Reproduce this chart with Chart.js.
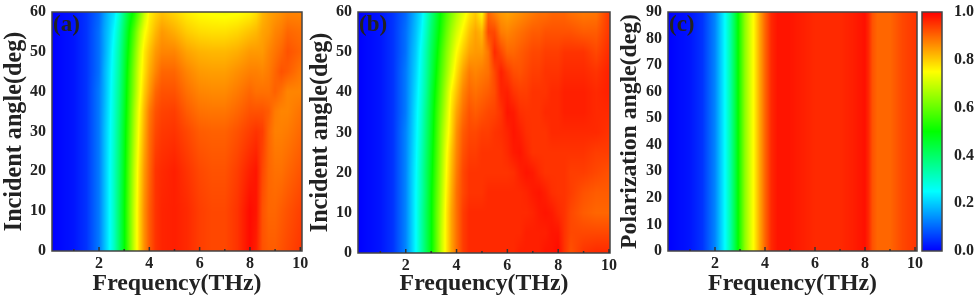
<!DOCTYPE html>
<html>
<head>
<meta charset="utf-8">
<style>
  html, body { margin: 0; padding: 0; background: #fff; }
  #wrap { position: relative; width: 979px; height: 300px; overflow: hidden; }
  canvas { position: absolute; top: 0; }
</style>
<script src="https://cdn.jsdelivr.net/npm/chart.js@4"></script>
</head>
<body>
<div id="wrap">
  <canvas id="chartA" width="316" height="300" style="left:0"></canvas>
  <canvas id="chartB" width="318" height="300" style="left:306px"></canvas>
  <canvas id="chartC" width="315" height="300" style="left:616px"></canvas>
  <canvas id="chartBar" width="64" height="300" style="left:915px"></canvas>
</div>
<script>
'use strict';

/* panel (a) */
const aFreq = [0.13,1,1.5,2,2.2,2.4,2.6,2.8,3,3.2,3.4,3.6,3.8,4,4.25,4.5,5,5.5,6,6.5,7,7.5,8,8.25,8.5,8.75,9,9.25,9.5,10.07];
const aAngle = [0,10,20,30,35,40,45,50,55,60];
const aValues = [
  [0,.02,.05,.12,.18,.24,.31,.40,.49,.60,.70,.79,.86,.91,.95,.965,.97,.96,.94,.93,.93,.95,.99,.97,.92,.91,.91,.92,.93,.95],
  [0,.02,.05,.12,.18,.24,.31,.40,.49,.60,.70,.79,.86,.91,.95,.965,.97,.96,.94,.93,.93,.95,.99,.98,.92,.90,.90,.91,.92,.94],
  [0,.02,.05,.12,.18,.24,.31,.39,.48,.59,.69,.78,.85,.90,.95,.96,.97,.95,.93,.92,.92,.94,.97,.98,.93,.90,.89,.89,.90,.92],
  [0,.02,.05,.12,.18,.235,.30,.38,.47,.57,.67,.76,.83,.89,.93,.945,.95,.93,.91,.905,.905,.92,.94,.95,.94,.90,.875,.875,.88,.90],
  [0,.02,.05,.12,.175,.23,.295,.37,.46,.56,.66,.75,.82,.88,.92,.935,.94,.91,.89,.885,.885,.90,.92,.92,.92,.91,.88,.87,.87,.89],
  [0,.02,.05,.12,.17,.225,.29,.36,.45,.55,.64,.73,.80,.85,.90,.92,.92,.89,.87,.865,.865,.88,.90,.89,.89,.89,.905,.89,.87,.87],
  [0,.02,.05,.11,.17,.22,.28,.35,.44,.54,.63,.72,.78,.83,.87,.90,.90,.87,.85,.845,.845,.86,.875,.875,.87,.88,.90,.92,.91,.88],
  [0,.02,.05,.11,.16,.21,.27,.34,.43,.52,.61,.70,.77,.81,.85,.87,.87,.84,.825,.82,.82,.83,.85,.85,.85,.87,.885,.90,.92,.90],
  [0,.02,.05,.11,.16,.20,.25,.32,.41,.50,.58,.67,.74,.78,.82,.85,.83,.80,.785,.78,.78,.79,.81,.82,.84,.85,.87,.88,.90,.89],
  [0,.02,.05,.10,.15,.19,.22,.29,.38,.46,.52,.60,.69,.76,.79,.81,.79,.765,.75,.745,.74,.745,.76,.78,.82,.84,.85,.86,.87,.87]
];

/* panel (b) */
const bFreq = [0.12,1,1.5,2,2.2,2.4,2.6,2.8,3,3.2,3.4,3.6,3.8,4,4.25,4.5,4.75,5,5.25,5.5,5.75,6,6.25,6.5,6.75,7,7.25,7.5,7.75,8,8.25,8.5,9,9.5,10.04];
const bAngle = [0,5,10,15,20,25,30,35,40,45,50,55,60];
const bValues = [
  [0,.02,.05,.13,.19,.25,.33,.41,.49,.59,.69,.77,.84,.89,.94,.96,.96,.96,.96,.96,.96,.96,.96,.97,.97,.97,.97,.98,.98,.99,.95,.92,.95,.96,.96],
  [0,.02,.05,.13,.19,.25,.33,.41,.49,.59,.69,.77,.84,.89,.94,.96,.96,.96,.96,.96,.96,.96,.96,.96,.97,.97,.97,.97,.98,.98,.95,.93,.93,.93,.93],
  [0,.02,.05,.13,.19,.25,.33,.41,.49,.59,.68,.77,.84,.89,.94,.96,.96,.96,.96,.96,.96,.96,.96,.96,.96,.965,.975,.98,.975,.96,.95,.93,.91,.90,.90],
  [0,.02,.05,.13,.19,.25,.32,.40,.49,.58,.67,.76,.83,.89,.93,.95,.95,.95,.96,.96,.96,.96,.96,.96,.965,.975,.98,.97,.955,.95,.95,.94,.92,.91,.91],
  [0,.02,.05,.13,.19,.245,.32,.40,.48,.57,.66,.75,.82,.88,.93,.95,.95,.95,.95,.95,.95,.95,.955,.97,.98,.975,.96,.95,.95,.95,.95,.94,.94,.93,.92],
  [0,.02,.05,.13,.185,.24,.31,.39,.47,.56,.65,.74,.81,.87,.92,.94,.94,.95,.95,.95,.95,.96,.975,.98,.965,.95,.95,.95,.95,.95,.95,.95,.95,.94,.94],
  [0,.02,.05,.13,.18,.235,.30,.38,.46,.55,.64,.72,.79,.86,.91,.93,.93,.94,.94,.95,.955,.965,.98,.97,.955,.95,.95,.95,.96,.96,.96,.96,.96,.96,.95],
  [0,.02,.05,.12,.175,.23,.29,.37,.45,.54,.62,.70,.78,.84,.89,.92,.91,.92,.93,.935,.95,.98,.975,.955,.95,.95,.95,.96,.96,.96,.97,.97,.97,.96,.96],
  [0,.02,.05,.12,.17,.22,.28,.35,.44,.52,.60,.68,.76,.81,.87,.90,.89,.90,.91,.925,.965,.97,.95,.94,.94,.95,.95,.95,.96,.96,.97,.97,.97,.96,.97],
  [0,.02,.05,.12,.165,.21,.27,.34,.42,.50,.58,.65,.72,.78,.84,.88,.87,.88,.89,.93,.97,.945,.925,.92,.93,.94,.94,.95,.95,.95,.96,.96,.96,.95,.97],
  [0,.02,.05,.11,.16,.20,.26,.33,.41,.48,.56,.63,.69,.75,.80,.84,.85,.85,.885,.96,.93,.90,.90,.91,.92,.93,.93,.94,.94,.94,.95,.95,.95,.93,.96],
  [0,.02,.05,.11,.15,.19,.24,.31,.39,.46,.53,.60,.66,.71,.76,.81,.84,.82,.93,.93,.88,.87,.88,.89,.90,.91,.91,.92,.92,.92,.92,.92,.91,.91,.95],
  [0,.02,.05,.10,.14,.18,.22,.29,.37,.44,.51,.57,.62,.67,.72,.77,.80,.75,.90,.87,.85,.84,.85,.86,.87,.88,.89,.89,.90,.90,.90,.89,.88,.885,.95]
];

/* panel (c) */
const cFreq = [0.12,1,1.5,2,2.2,2.4,2.6,2.8,3,3.2,3.4,3.6,3.8,4,4.25,4.5,5,6,7,7.5,8,8.15,8.3,8.5,9,9.5,10.08];
const cAngle = [0,90];
const cValues = [
  [0,.02,.05,.13,.19,.25,.33,.43,.54,.64,.71,.77,.84,.90,.96,.98,.98,.96,.96,.97,.985,.96,.92,.90,.90,.93,.95],
  [0,.02,.05,.13,.19,.25,.33,.43,.54,.64,.71,.77,.84,.90,.96,.98,.98,.96,.96,.97,.985,.96,.92,.90,.90,.93,.95]
];

/* colour bar */
const barColumns = [0,1];
const barLevels = [0,.25,.5,.75,1];
const barValues = [[0,0],[.25,.25],[.5,.5],[.75,.75],[1,1]];

/* axis ticks and labels */
const freqTicks = [1,2,3,4,5,6,7,8,9,10];
const angleTicks60 = [0,10,20,30,40,50,60];
const angleTicks90 = [0,10,20,30,40,50,60,70,80,90];
const barTicks = [0,.2,.4,.6,.8,1];
const freqTitle = 'Frequency(THz)';
const incidentTitle = 'Incident angle(deg)';
const polarTitle = 'Polarization angle(deg)';

const SERIF = '"Liberation Serif", "Times New Roman", serif';
const INK = '#222';

/* blue - cyan - green - yellow - red */
function valueColor(v) {
  const t = Math.max(0, Math.min(1, v)) * 4;
  if (t < 1) return [0, 255 * t, 255];
  if (t < 2) return [0, 255, 255 * (2 - t)];
  if (t < 3) return [255 * (t - 2), 255, 0];
  return [255, 255 * (4 - t), 0];
}

function bracket(list, x) {
  let i = 0;
  while (i < list.length - 2 && x > list[i + 1]) i++;
  const f = (x - list[i]) / (list[i + 1] - list[i]);
  return [i, Math.max(0, Math.min(1, f))];
}

function makeCells(xs, ys, grid) {
  const cells = [];
  ys.forEach((y, r) => xs.forEach((x, c) => cells.push({ x, y, v: grid[r][c] })));
  return cells;
}

// keep the tick labels from pushing the plot area around
function noPadding(s) {
  s.paddingTop = 0;
  s.paddingBottom = 0;
  s.paddingLeft = 0;
  s.paddingRight = 0;
}

/* paints the grid through the chart's scales, smooth between the read values */
const heatPlugin = {
  id: 'heat',
  beforeDatasetsDraw(chart) {
    const ds = chart.data.datasets[0];
    const area = chart.chartArea;
    const left = Math.round(area.left), top = Math.round(area.top);
    const w = Math.round(area.right) - left, h = Math.round(area.bottom) - top;
    const img = chart.ctx.createImageData(w, h);
    const xb = [], yb = [];
    for (let i = 0; i < w; i++) xb.push(bracket(ds.xs, chart.scales.x.getValueForPixel(left + i + 0.5)));
    for (let j = 0; j < h; j++) yb.push(bracket(ds.ys, chart.scales.y.getValueForPixel(top + j + 0.5)));
    let p = 0;
    for (let j = 0; j < h; j++) {
      const [r, fy] = yb[j];
      const lo = ds.grid[r], hi = ds.grid[r + 1];
      for (let i = 0; i < w; i++) {
        const [c, fx] = xb[i];
        const a = lo[c] + (lo[c + 1] - lo[c]) * fx;
        const b = hi[c] + (hi[c + 1] - hi[c]) * fx;
        const rgb = valueColor(a + (b - a) * fy);
        img.data[p++] = rgb[0];
        img.data[p++] = rgb[1];
        img.data[p++] = rgb[2];
        img.data[p++] = 255;
      }
    }
    chart.ctx.putImageData(img, left, top);
  },
  afterDatasetsDraw(chart, args, opts) {
    const ctx = chart.ctx;
    const area = chart.chartArea;
    ctx.save();
    ctx.strokeStyle = '#444';
    ctx.lineWidth = 1.5;
    ctx.strokeRect(area.left, area.top, area.right - area.left, area.bottom - area.top);

    // small inward ticks on the frequency axis
    if (opts.label) {
      ctx.strokeStyle = '#333';
      ctx.lineWidth = 1.5;
      chart.scales.x.ticks.forEach(t => {
        const px = chart.scales.x.getPixelForValue(t.value);
        ctx.beginPath();
        ctx.moveTo(px, area.bottom);
        ctx.lineTo(px, area.bottom - (t.value % 2 === 0 ? 4 : 2));
        ctx.stroke();
      });
      ctx.fillStyle = INK;
      ctx.font = 'bold 23px ' + SERIF;
      ctx.textAlign = 'left';
      ctx.textBaseline = 'middle';
      ctx.fillText(opts.label, area.left + 1, area.top + 13);
    }
    ctx.restore();
  }
};

function panel(id, cfg) {
  return new Chart(document.getElementById(id), {
    type: 'scatter',
    data: {
      datasets: [{
        data: makeCells(cfg.xs, cfg.ys, cfg.grid),
        xs: cfg.xs, ys: cfg.ys, grid: cfg.grid,
        pointRadius: 0, pointHoverRadius: 0
      }]
    },
    plugins: [heatPlugin],
    options: {
      responsive: false,
      animation: false,
      devicePixelRatio: 1,
      events: [],
      layout: { padding: { top: 12, right: 14, left: 0, bottom: 0 } },
      plugins: {
        legend: { display: false },
        tooltip: { enabled: false },
        heat: { label: cfg.label }
      },
      scales: {
        x: {
          type: 'linear',
          min: cfg.xs[0],
          max: cfg.xs[cfg.xs.length - 1],
          afterBuildTicks: s => { s.ticks = freqTicks.map(v => ({ value: v })); },
          afterFit: s => { s.height = cfg.xHeight; noPadding(s); },
          grid: { display: false, drawTicks: false },
          border: { display: false },
          ticks: {
            autoSkip: false, maxRotation: 0, padding: 3, color: INK,
            font: { family: SERIF, weight: 'bold', size: 16 },
            callback: v => (v % 2 === 0 ? String(v) : '')
          },
          title: {
            display: true, text: freqTitle, color: INK,
            font: { family: SERIF, weight: 'bold', size: 23.8 },
            padding: { top: 0, bottom: 2 }
          }
        },
        y: {
          type: 'linear',
          min: cfg.ys[0],
          max: cfg.ys[cfg.ys.length - 1],
          afterBuildTicks: s => { s.ticks = cfg.yTicks.map(v => ({ value: v })); },
          afterFit: s => { s.width = 52; noPadding(s); },
          grid: { display: false, drawTicks: false },
          border: { display: false },
          ticks: {
            autoSkip: false, padding: 6, color: INK,
            font: { family: SERIF, weight: 'bold', size: 16 },
            callback: v => String(v)
          },
          title: {
            display: true, text: cfg.yTitle, color: INK,
            font: { family: SERIF, weight: 'bold', size: cfg.yTitleSize },
            padding: { top: 0, bottom: 0 }
          }
        }
      }
    }
  });
}

panel('chartA', { xs: aFreq, ys: aAngle, grid: aValues, label: '(a)', yTicks: angleTicks60, yTitle: incidentTitle, yTitleSize: 24.2, xHeight: 49 });
panel('chartB', { xs: bFreq, ys: bAngle, grid: bValues, label: '(b)', yTicks: angleTicks60, yTitle: incidentTitle, yTitleSize: 24.2, xHeight: 47 });
panel('chartC', { xs: cFreq, ys: cAngle, grid: cValues, label: '(c)', yTicks: angleTicks90, yTitle: polarTitle, yTitleSize: 23.7, xHeight: 49 });

new Chart(document.getElementById('chartBar'), {
  type: 'scatter',
  data: {
    datasets: [{
      data: makeCells(barColumns, barLevels, barValues),
      xs: barColumns, ys: barLevels, grid: barValues,
      pointRadius: 0, pointHoverRadius: 0
    }]
  },
  plugins: [heatPlugin],
  options: {
    responsive: false,
    animation: false,
    devicePixelRatio: 1,
    events: [],
    layout: { padding: { top: 12, left: 7, bottom: 49, right: 0 } },
    plugins: { legend: { display: false }, tooltip: { enabled: false } },
    scales: {
      x: { type: 'linear', min: 0, max: 1, display: false },
      y: {
        type: 'linear',
        position: 'right',
        min: 0,
        max: 1,
        afterBuildTicks: s => { s.ticks = barTicks.map(v => ({ value: v })); },
        afterFit: s => { s.width = 37; noPadding(s); },
        grid: { display: false, drawTicks: true, drawOnChartArea: false, tickLength: 3, tickColor: '#333' },
        border: { display: false },
        ticks: {
          autoSkip: false, padding: 9, color: INK,
          font: { family: SERIF, weight: 'bold', size: 16 },
          callback: v => v.toFixed(1)
        }
      }
    }
  }
});
</script>
</body>
</html>
